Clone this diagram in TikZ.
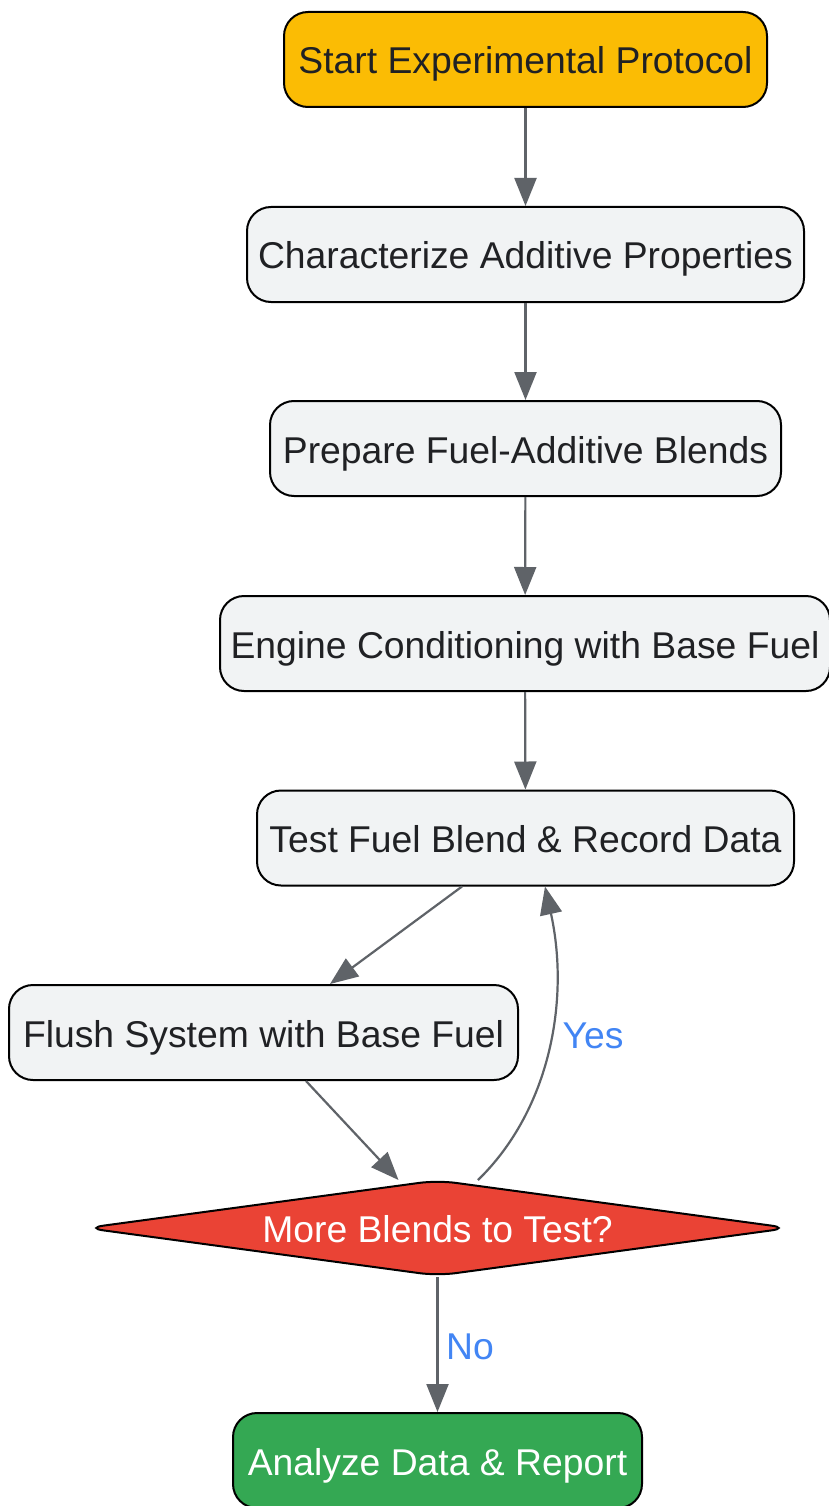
\documentclass[tikz,border=0pt]{standalone}
\usepackage{fontspec}
\setmainfont{Liberation Sans}
\usetikzlibrary{shapes.geometric,arrows.meta}
\definecolor{cyel}{HTML}{FBBC04}
\definecolor{cbox}{HTML}{F1F3F4}
\definecolor{ctxt}{HTML}{202124}
\definecolor{cred}{HTML}{EA4335}
\definecolor{cgrn}{HTML}{34A853}
\definecolor{cblu}{HTML}{4285F4}
\definecolor{cedge}{HTML}{5F6368}
\begin{document}
\begin{tikzpicture}[x=1pt,y=-1pt,
  every node/.style={font=\fontsize{37.3}{44}\selectfont,text height=30pt,text depth=1pt},
  stepbox/.style={draw=black,line width=2pt,rounded corners=24pt,fill=cbox,text=ctxt,minimum height=95pt,inner sep=0pt},
  decbox/.style={diamond,aspect=7.42,draw=black,line width=2pt,rounded corners=18pt,fill=cred,text=white,minimum width=704pt,minimum height=96pt,inner sep=0pt},
  conn/.style={draw=cedge,line width=2.2pt,-{Triangle[length=28pt,width=22pt]}},
  lbl/.style={text=cblu}]
\useasboundingbox (0,0) rectangle (828,1506);
\fill[white] (0,0) rectangle (828,1506);
\node[stepbox,fill=cyel,minimum width=483pt] (start) at (525.5,59.5) {Start Experimental Protocol};
\node[stepbox,minimum width=557pt] (char) at (525.5,254.5) {Characterize Additive Properties};
\node[stepbox,minimum width=511pt] (prep) at (525.5,448.5) {Prepare Fuel-Additive Blends};
\node[stepbox,minimum width=610pt] (eng) at (525,643.5) {Engine Conditioning with Base Fuel};
\node[stepbox,minimum width=537pt] (test) at (525.5,838) {Test Fuel Blend \& Record Data};
\node[stepbox,minimum width=509pt] (flush) at (263.5,1032.5) {Flush System with Base Fuel};
\node[decbox] (dec) at (437.5,1228) {More Blends to Test?};
\node[stepbox,fill=cgrn,text=white,minimum width=409pt] (ana) at (437.5,1460.5) {Analyze Data \& Report};
\draw[conn] (start) -- (char);
\draw[conn] (char) -- (prep);
\draw[conn] (prep) -- (eng);
\draw[conn] (eng) -- (test);
\draw[conn] ([xshift=-63.5pt]test.south) -- ([xshift=66.5pt]flush.north);
\draw[conn] ([xshift=42.5pt]flush.south) -- ([xshift=-39pt,yshift=-1pt]dec.north);
\draw[conn] ([xshift=40.5pt,yshift=-1pt]dec.north) .. controls (550,1110) and (570,1000) .. ([xshift=19.5pt]test.south);
\node[lbl] (yes) at (593,1034) {Yes};
\draw[conn] (dec.south) -- (ana.north);
\node[lbl] (no) at (470,1345) {No};
\end{tikzpicture}
\end{document}
